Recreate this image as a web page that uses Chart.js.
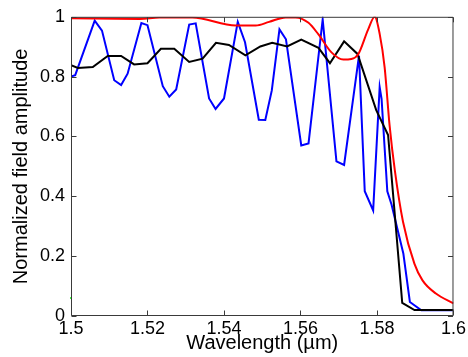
<!DOCTYPE html>
<html><head><meta charset="utf-8">
<script src="https://cdn.jsdelivr.net/npm/chart.js@4"></script>
<style>html,body{margin:0;padding:0;background:#fff}#w{width:468px;height:357px}</style>
</head><body>
<div id="w"><canvas id="c" width="468" height="357"></canvas></div>
<script>
const xTicks = [1.5, 1.52, 1.54, 1.56, 1.58, 1.6];
const yTicks = [0, 0.2, 0.4, 0.6, 0.8, 1];
const xLabel = 'Wavelength (\u00b5m)';
const yLabel = 'Normalized field amplitude';

const blueX = [1.5, 1.5011, 1.5062, 1.5081, 1.5113, 1.5131, 1.5148, 1.5184, 1.5200, 1.5240, 1.5257, 1.5275,
  1.5309, 1.5326, 1.5361, 1.5378, 1.5400, 1.5436, 1.5455, 1.5491, 1.5508, 1.5525, 1.5545, 1.5562,
  1.5602, 1.5621, 1.5658, 1.5694, 1.5714, 1.5753, 1.5768, 1.5790, 1.5807, 1.5812, 1.5827, 1.5838,
  1.5869, 1.5886, 1.5916, 1.6];
const blueY = [0.800, 0.805, 0.987, 0.954, 0.788, 0.772, 0.810, 0.979, 0.972, 0.768, 0.733, 0.757,
  0.974, 0.978, 0.727, 0.692, 0.727, 0.983, 0.915, 0.656, 0.655, 0.754, 0.958, 0.925,
  0.570, 0.577, 0.991, 0.517, 0.505, 0.870, 0.417, 0.353, 0.765, 0.726, 0.417, 0.373,
  0.208, 0.047, 0.019, 0.019];

const blackX = [1.5, 1.5018, 1.5057, 1.5096, 1.5131, 1.5165, 1.5200, 1.5235, 1.5270, 1.5309, 1.5344,
  1.5379, 1.5413, 1.5456, 1.5495, 1.5526, 1.5565, 1.5602, 1.5647, 1.5677, 1.5714, 1.5749,
  1.5798, 1.5829, 1.5866, 1.5898, 1.6];
const blackY = [0.838, 0.829, 0.832, 0.869, 0.869, 0.841, 0.845, 0.893, 0.893, 0.849, 0.860,
  0.913, 0.906, 0.871, 0.901, 0.913, 0.901, 0.924, 0.896, 0.845, 0.918, 0.876,
  0.688, 0.605, 0.044, 0.020, 0.020];

const redX = [1.5, 1.5180, 1.5231, 1.5317, 1.5431, 1.5483, 1.5518, 1.5561, 1.5587, 1.5621, 1.5647,
  1.5681, 1.5712, 1.5733, 1.5751, 1.5777, 1.5794, 1.5807, 1.5820, 1.5833, 1.5847, 1.5868,
  1.5898, 1.5919, 1.5954, 1.6];
const redY = [0.995, 0.993, 0.998, 0.998, 0.971, 0.971, 0.983, 0.998, 0.998, 0.980, 0.941,
  0.881, 0.857, 0.859, 0.875, 0.958, 1.000, 0.943, 0.831, 0.636, 0.483, 0.315,
  0.174, 0.119, 0.075, 0.042];

const greenX = [1.5];
const greenY = [0.06];

const pts = (xs, ys) => xs.map((x, i) => ({x: x, y: ys[i]}));
const fmt = v => String(+Number(v).toFixed(2));
const FONT = "'Liberation Sans', Arial, sans-serif";

const frame = {
  id: 'frame',
  afterDatasetsDraw(chart) {
    const {ctx, chartArea: a, scales: {x, y}} = chart;
    ctx.save();
    ctx.strokeStyle = '#3a3a3a';
    ctx.lineWidth = 1;
    const L = a.left + 0.5, R = a.right - 0.5, T = a.top + 0.5, B = a.bottom - 0.5;
    ctx.beginPath();
    ctx.rect(L, T, R - L, B - T);
    const tl = 5;
    xTicks.forEach(v => {
      const p = Math.round(x.getPixelForValue(v)) + 0.5;
      ctx.moveTo(p, B); ctx.lineTo(p, B - tl);
      ctx.moveTo(p, T); ctx.lineTo(p, T + tl);
    });
    yTicks.forEach(v => {
      const p = Math.round(y.getPixelForValue(v)) + 0.5;
      ctx.moveTo(L, p); ctx.lineTo(L + tl, p);
      ctx.moveTo(R, p); ctx.lineTo(R - tl, p);
    });
    ctx.stroke();
    ctx.restore();
  }
};

new Chart(document.getElementById('c'), {
  type: 'line',
  data: {
    datasets: [
      {data: pts(redX, redY), borderColor: '#ff0000', borderWidth: 2, pointRadius: 0, cubicInterpolationMode: 'monotone', order: 0},
      {data: pts(blackX, blackY), borderColor: '#000000', borderWidth: 2, pointRadius: 0, tension: 0, order: 1},
      {data: pts(blueX, blueY), borderColor: '#0000ff', borderWidth: 2, pointRadius: 0, tension: 0, order: 2},
      {data: pts(greenX, greenY), borderColor: '#00ff00', backgroundColor: '#00ff00', showLine: false, pointRadius: 1, pointBorderWidth: 0, clip: false, order: 3}
    ]
  },
  options: {
    responsive: false,
    animation: false,
    devicePixelRatio: 1,
    layout: {padding: {top: 14, right: 12, left: 0, bottom: 0}},
    plugins: {legend: {display: false}, tooltip: {enabled: false}},
    scales: {
      x: {
        type: 'linear', min: 1.5, max: 1.6,
        afterBuildTicks: s => { s.ticks = xTicks.map(v => ({value: v})); },
        afterFit: s => { s.height = 41; },
        grid: {display: false, drawTicks: false},
        border: {display: false},
        ticks: {padding: 2, color: '#000', font: {family: FONT, size: 18}, callback: fmt, maxRotation: 0, autoSkip: false},
        title: {display: true, text: xLabel, color: '#000', font: {family: FONT, size: 20}, padding: {top: 0, bottom: 2}}
      },
      y: {
        type: 'linear', min: 0, max: 1,
        afterBuildTicks: s => { s.ticks = yTicks.map(v => ({value: v})); },
        afterFit: s => { s.width = 71; },
        grid: {display: false, drawTicks: false},
        border: {display: false},
        ticks: {padding: 6, color: '#000', font: {family: FONT, size: 18}, callback: fmt, autoSkip: false},
        title: {display: true, text: yLabel, color: '#000', font: {family: FONT, size: 20}, padding: {top: 9, bottom: 0}}
      }
    }
  },
  plugins: [frame]
});
</script>
</body></html>
